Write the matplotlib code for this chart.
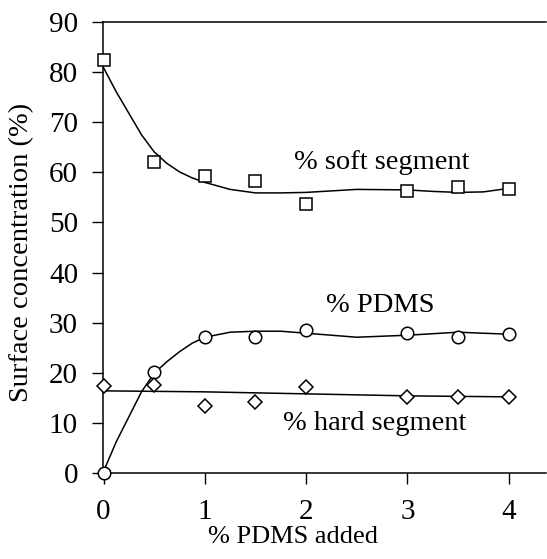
import matplotlib
matplotlib.use("Agg")
import matplotlib.pyplot as plt

plt.rcParams['font.family'] = ['Liberation Serif', 'DejaVu Serif']

# Measured data
pdms_added = [0, 0.5, 1, 1.5, 2, 3, 3.5, 4]
soft_segment = [82.4, 62.0, 59.2, 58.3, 53.6, 56.3, 57.1, 56.6]
pdms_surface = [0.0, 20.1, 27.1, 27.1, 28.5, 28.0, 27.2, 27.7]
hard_segment = [17.4, 17.6, 13.3, 14.2, 17.2, 15.2, 15.2, 15.2]

# Fitted curves
soft_fit_x = [0, 0.125, 0.25, 0.375, 0.5, 0.625, 0.75, 0.875, 1.0, 1.25, 1.5,
              1.75, 2.0, 2.5, 3.0, 3.25, 3.5, 3.75, 4.0]
soft_fit_y = [80.9, 76.1, 71.8, 67.5, 64.1, 61.8, 60.1, 58.9, 58.0, 56.6, 55.9,
              55.9, 56.0, 56.6, 56.5, 56.2, 56.0, 56.1, 56.8]
pdms_fit_x = [0, 0.125, 0.25, 0.375, 0.5, 0.625, 0.75, 0.875, 1.0, 1.25, 1.5,
              1.75, 2.0, 2.5, 3.0, 3.5, 4.0]
pdms_fit_y = [0.3, 6.2, 11.2, 16.2, 19.9, 22.2, 24.2, 25.9, 27.1, 28.1, 28.3,
              28.3, 27.9, 27.1, 27.5, 28.1, 27.7]
hard_fit_x = [0, 1, 2, 3, 4]
hard_fit_y = [16.4, 16.2, 15.8, 15.4, 15.2]

y_ticks = [0, 10, 20, 30, 40, 50, 60, 70, 80, 90]
x_ticks = [0, 1, 2, 3, 4]

fig = plt.figure(figsize=(5.47, 5.59), dpi=100)
ax = fig.add_axes([0.1883, 0.1538, 0.81, 0.8068])

lw = 1.1
ax.plot(soft_fit_x, soft_fit_y, color='black', lw=lw, zorder=2)
ax.plot(pdms_fit_x, pdms_fit_y, color='black', lw=lw, zorder=2)
ax.plot(hard_fit_x, hard_fit_y, color='black', lw=lw, zorder=2)

ax.plot(pdms_added, soft_segment, linestyle='none', marker='s', ms=8,
        mfc='white', mec='black', mew=1.1, zorder=3, clip_on=False)
ax.plot(pdms_added, pdms_surface, linestyle='none', marker='o', ms=9,
        mfc='white', mec='black', mew=1.1, zorder=3, clip_on=False)
ax.plot(pdms_added, hard_segment, linestyle='none', marker='D', ms=7,
        mfc='white', mec='black', mew=1.1, zorder=3, clip_on=False)

ax.set_xlim(-0.005, 4.37)
ax.set_ylim(0, 90)
ax.set_xticks(x_ticks)
ax.set_yticks(y_ticks)
ax.spines['right'].set_visible(False)
for s in ['left', 'top', 'bottom']:
    ax.spines[s].set_linewidth(1.1)
ax.tick_params(axis='y', direction='out', length=8, width=1.0, pad=10,
               labelsize=21)
ax.tick_params(axis='x', direction='out', length=8, width=1.0, pad=11,
               labelsize=21)

ax.text(2.75, 62.0, '% soft segment', fontsize=20.5, ha='center', va='center')
ax.text(2.73, 33.5, '% PDMS', fontsize=20.5, ha='center', va='center')
ax.text(2.68, 9.8, '% hard segment', fontsize=20.5, ha='center', va='center')

fig.text(293/547, 1 - 537/559, '% PDMS added', fontsize=19,
         ha='center', va='center')
fig.text(22/547, 1 - 252/559, 'Surface concentration (%)', fontsize=20.5,
         ha='center', va='center', rotation=90)

fig.savefig('out.png', dpi=100)
